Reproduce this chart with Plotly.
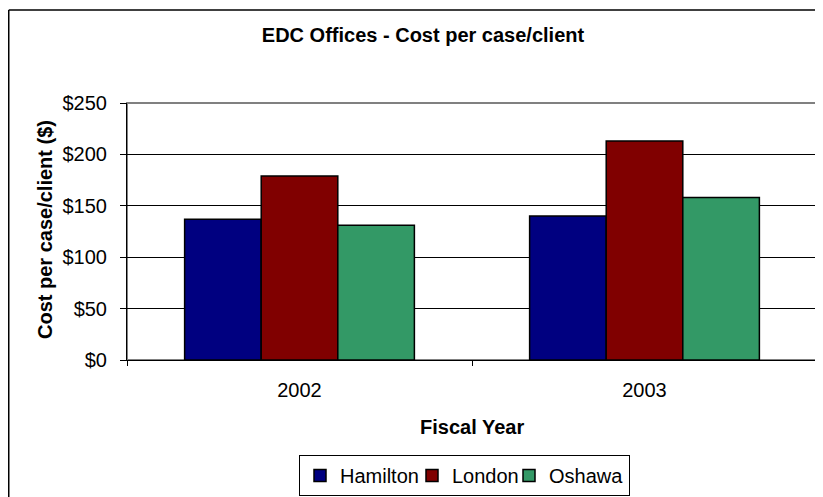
import plotly.graph_objects as go

years = ["2002", "2003"]
hamilton = [137, 140]
london = [179, 213]
oshawa = [131, 158]
series_names = ["Hamilton", "London", "Oshawa"]
series_colors = ["#000080", "#800000", "#339966"]
y_ticks = [0, 50, 100, 150, 200, 250]
y_tick_labels = ["$0", "$50", "$100", "$150", "$200", "$250"]

FONT = "Liberation Sans, Arial, sans-serif"

# legend slot widths (px) to mimic the compact legend spacing
legend_widths = [67, 52, None]

fig = go.Figure()
for name, vals, col, lw in zip(series_names, [hamilton, london, oshawa], series_colors, legend_widths):
    kw = {}
    if lw is not None:
        kw["legendwidth"] = lw
    fig.add_trace(go.Bar(
        x=years, y=vals, name=name,
        marker=dict(color=col, line=dict(color="black", width=1.5)),
        **kw,
    ))

# page body has an 8px margin, so the figure is 8px smaller than the window
W, H = 815, 489
L, R, T, B = 119, 6, 95, 137
PW, PH = W - L - R, H - T - B


def px_x(x):
    return (x - L) / PW


def px_y(y):
    return (H - B - y) / PH


fig.update_layout(
    width=W, height=H,
    margin=dict(l=L, r=R, t=T, b=B, pad=0, autoexpand=False),
    paper_bgcolor="white", plot_bgcolor="white",
    font=dict(family=FONT, size=20, color="black"),
    barmode="group", bargap=0.334, bargroupgap=0,
    title=dict(text="<b>EDC Offices - Cost per case/client</b>",
               x=415 / W, xanchor="center", y=1 - 27 / H, yanchor="middle",
               font=dict(size=20, family=FONT, color="black")),
    showlegend=True,
    legend=dict(orientation="h", x=px_x(622), xanchor="right",
                y=px_y(488), yanchor="bottom",
                bordercolor="black", borderwidth=1, bgcolor="white",
                font=dict(size=20, family=FONT), traceorder="normal",
                itemclick=False, itemdoubleclick=False),
    xaxis=dict(type="category", showline=True, linecolor="black", linewidth=1,
               ticks="outside", ticklen=5, tickcolor="black", tickson="boundaries",
               showgrid=False, tickfont=dict(size=20), ticklabelstandoff=12,
               automargin=False, fixedrange=True),
    yaxis=dict(range=[0, 250], tickmode="array", tickvals=y_ticks, ticktext=y_tick_labels,
               showline=True, linecolor="black", linewidth=1,
               ticks="outside", ticklen=6, tickcolor="black",
               showgrid=True, gridcolor="black", gridwidth=1,
               zeroline=False, tickfont=dict(size=20),
               ticklabelstandoff=9, automargin=False, fixedrange=True),
    annotations=[
        dict(text="<b>Fiscal Year</b>", xref="paper", yref="paper",
             x=0.5, y=px_y(419), xanchor="center", yanchor="middle",
             showarrow=False, font=dict(size=20, family=FONT)),
        dict(text="<b>Cost per case/client ($)</b>", xref="paper", yref="paper",
             x=px_x(37), y=px_y(222), textangle=-90,
             xanchor="center", yanchor="middle",
             showarrow=False, font=dict(size=20, family=FONT)),
    ],
    shapes=[
        # plot-area border (gray)
        dict(type="rect", xref="paper", yref="paper", x0=0, x1=1, y0=0, y1=1,
             line=dict(color="#808080", width=2), layer="below"),
        # outer chart border (left and top edges visible)
        dict(type="line", xref="paper", yref="paper",
             x0=px_x(0.75), x1=px_x(0.75), y0=px_y(H + 5), y1=px_y(2),
             line=dict(color="black", width=1.5)),
        dict(type="line", xref="paper", yref="paper",
             x0=px_x(0.75), x1=px_x(W + 5), y0=px_y(2), y1=px_y(2),
             line=dict(color="black", width=1.5)),
    ],
)

fig.write_html("out.html", config=dict(displayModeBar=False))
